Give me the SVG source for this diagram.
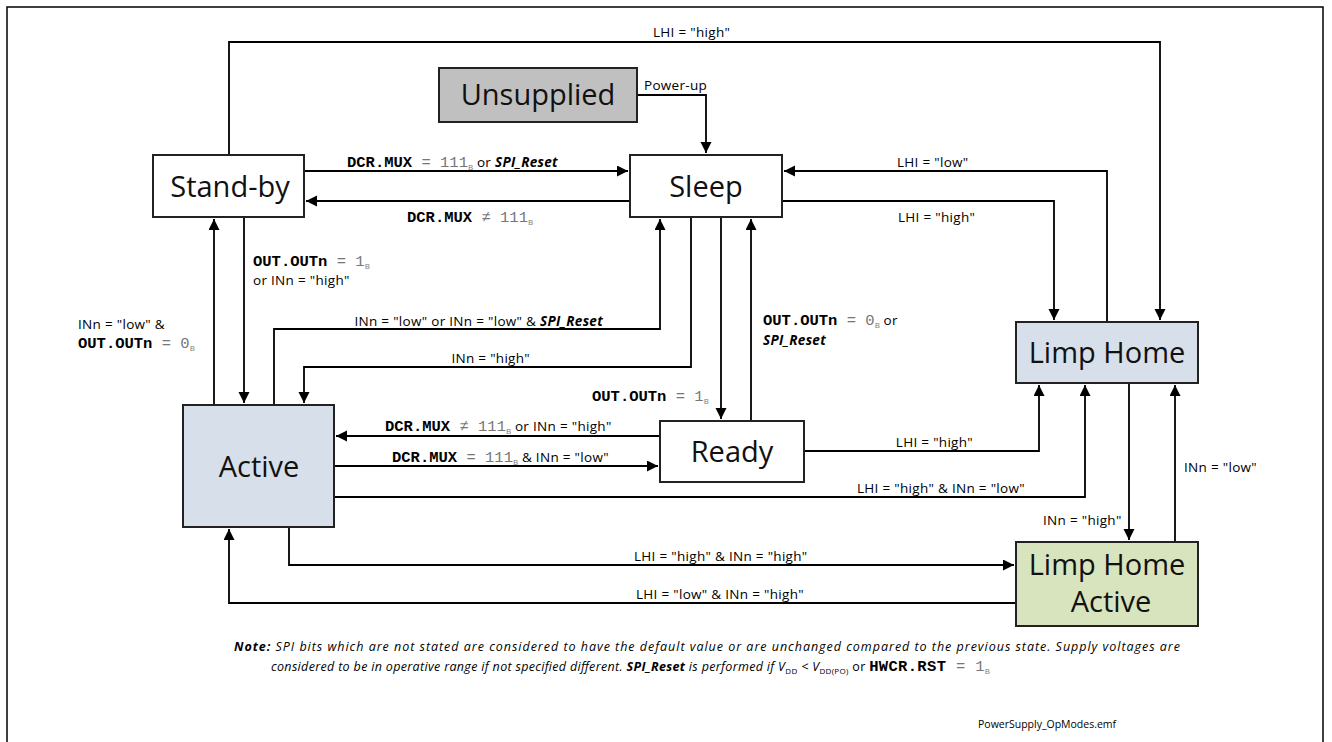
<svg xmlns="http://www.w3.org/2000/svg" width="1332" height="742" viewBox="0 0 1332 742">
<style>
.frame{fill:none;stroke:#000;stroke-width:1.5}
.box{stroke:#222;stroke-width:2}
.w{fill:#fff}.g{fill:#c0c0c0}.b{fill:#d6dfea}.gr{fill:#d7e4bd}
.nt{font-family:"Open Sans",sans-serif;font-size:29px;fill:#111;text-anchor:middle}
.c{fill:none;stroke:#000;stroke-width:1.8}
.a{marker-end:url(#ah)}
.l{font-family:"Open Sans",sans-serif;font-size:13.5px;letter-spacing:0.3px;fill:#000}
.m{font-family:"Liberation Mono",monospace;font-size:15.5px;font-weight:bold;letter-spacing:0;fill:#000}
.v{font-family:"Liberation Mono",monospace;font-size:15.5px;letter-spacing:0;fill:#777}
.s{font-family:"Open Sans",sans-serif;font-size:8px;letter-spacing:0;fill:#777}
.bi{font-weight:bold;font-style:italic}
.note{font-family:"Open Sans",sans-serif;font-size:12.5px;font-style:italic;fill:#000}
.file{font-family:"Open Sans",sans-serif;font-size:10.5px;fill:#000}
</style>
<defs>
<marker id="ah" markerUnits="userSpaceOnUse" markerWidth="12" markerHeight="12" refX="11" refY="5.5" orient="auto">
<path d="M0,0 L11,5.5 L0,11 z" fill="#000"/>
</marker>
</defs>
<rect width="1332" height="742" fill="#fff"/>
<path class="frame" d="M7,742 V7 H1323 V742"/>

<g id="connectors">
<path class="c a" d="M229,155 V42 H1160 V320"/>
<path class="c a" d="M637,95 H706 V153"/>
<path class="c a" d="M304,171 H628"/>
<path class="c a" d="M630,201 H306"/>
<path class="c a" d="M1107,322 V171 H784"/>
<path class="c a" d="M782,201 H1054 V320"/>
<path class="c a" d="M244,217 V403"/>
<path class="c a" d="M214,405 V219"/>
<path class="c a" d="M274,405 V329 H660 V219"/>
<path class="c a" d="M691,217 V367 H304 V403"/>
<path class="c a" d="M721,217 V419"/>
<path class="c a" d="M751,421 V219"/>
<path class="c a" d="M660,436 H336"/>
<path class="c a" d="M334,466 H658"/>
<path class="c a" d="M804,451 H1039 V385"/>
<path class="c a" d="M334,497 H1085 V385"/>
<path class="c a" d="M1129,383 V540"/>
<path class="c a" d="M1175,542 V385"/>
<path class="c a" d="M289,527 V565 H1014"/>
<path class="c a" d="M1016,603 H229 V529"/>

<text class="l" x="653" y="37">LHI = "high"</text>
<text class="l" x="644" y="90">Power-up</text>
<text class="l" x="347" y="167"><tspan class="m">DCR.MUX</tspan><tspan class="v"> = 111</tspan><tspan class="s" dy="3">B</tspan><tspan dy="-3"> or </tspan><tspan class="bi">SPI_Reset</tspan></text>
<text class="l" x="407" y="222"><tspan class="m">DCR.MUX</tspan><tspan class="v"> ≠ 111</tspan><tspan class="s" dy="3">B</tspan></text>
<text class="l" x="897" y="167">LHI = "low"</text>
<text class="l" x="898" y="222">LHI = "high"</text>
<text class="l" x="253" y="266"><tspan class="m">OUT.OUTn</tspan><tspan class="v"> = 1</tspan><tspan class="s" dy="3">B</tspan></text>
<text class="l" x="253" y="285">or INn = "high"</text>
<text class="l" x="78" y="329">INn = "low" &amp;</text>
<text class="l" x="78" y="348"><tspan class="m">OUT.OUTn</tspan><tspan class="v"> = 0</tspan><tspan class="s" dy="3">B</tspan></text>
<text class="l" x="603" y="326" text-anchor="end">INn = "low" or INn = "low" &amp; <tspan class="bi">SPI_Reset</tspan></text>
<text class="l" x="530" y="363" text-anchor="end">INn = "high"</text>
<text class="l" x="592" y="401"><tspan class="m">OUT.OUTn</tspan><tspan class="v"> = 1</tspan><tspan class="s" dy="3">B</tspan></text>
<text class="l" x="763" y="325"><tspan class="m">OUT.OUTn</tspan><tspan class="v"> = 0</tspan><tspan class="s" dy="3">B</tspan><tspan dy="-3"> or</tspan></text>
<text class="l bi" x="763" y="345">SPI_Reset</text>
<text class="l" x="385" y="431"><tspan class="m">DCR.MUX</tspan><tspan class="v"> ≠ 111</tspan><tspan class="s" dy="3">B</tspan><tspan dy="-3"> or INn = "high"</tspan></text>
<text class="l" x="392" y="462"><tspan class="m">DCR.MUX</tspan><tspan class="v"> = 111</tspan><tspan class="s" dy="3">B</tspan><tspan dy="-3"> &amp; INn = "low"</tspan></text>
<text class="l" x="973" y="447" text-anchor="end">LHI = "high"</text>
<text class="l" x="857" y="493">LHI = "high" &amp; INn = "low"</text>
<text class="l" x="1043" y="525">INn = "high"</text>
<text class="l" x="1184" y="472">INn = "low"</text>
<text class="l" x="634" y="561">LHI = "high" &amp; INn = "high"</text>
<text class="l" x="636" y="599">LHI = "low" &amp; INn = "high"</text>
</g>

<g id="unsupplied"><rect class="box g" x="439" y="68" width="198" height="54"/><text class="nt" x="538" y="105">Unsupplied</text></g>
<g id="standby"><rect class="box w" x="153" y="155" width="151" height="62"/><text class="nt" x="230" y="197">Stand-by</text></g>
<g id="sleep"><rect class="box w" x="630" y="155" width="152" height="62"/><text class="nt" x="706" y="197">Sleep</text></g>
<g id="limphome"><rect class="box b" x="1016" y="322" width="182" height="61"/><text class="nt" x="1107" y="363">Limp Home</text></g>
<g id="active"><rect class="box b" x="183" y="405" width="151" height="122"/><text class="nt" x="259" y="477">Active</text></g>
<g id="ready"><rect class="box w" x="660" y="421" width="144" height="61"/><text class="nt" x="732" y="462">Ready</text></g>
<g id="limphomeactive"><rect class="box gr" x="1016" y="542" width="182" height="84"/><text class="nt" x="1107" y="575">Limp Home</text><text class="nt" x="1111" y="612">Active</text></g>

<text class="note" x="234" y="651" textLength="946"><tspan class="bi">Note:</tspan> SPI bits which are not stated are considered to have the default value or are unchanged compared to the previous state. Supply voltages are</text>
<text class="note" x="271" y="671" textLength="719">considered to be in operative range if not specified different. <tspan class="bi">SPI_Reset</tspan> is performed if V<tspan font-size="8" font-style="normal" dy="3">DD</tspan><tspan dy="-3"> &lt; V</tspan><tspan font-size="8" font-style="normal" dy="3">DD(PO)</tspan><tspan dy="-3" font-style="normal"> or </tspan><tspan class="m" font-style="normal">HWCR.RST</tspan><tspan class="v" font-style="normal"> = 1</tspan><tspan class="s" font-style="normal" dy="3">B</tspan></text>
<text class="file" x="978" y="728">PowerSupply_OpModes.emf</text>
</svg>
